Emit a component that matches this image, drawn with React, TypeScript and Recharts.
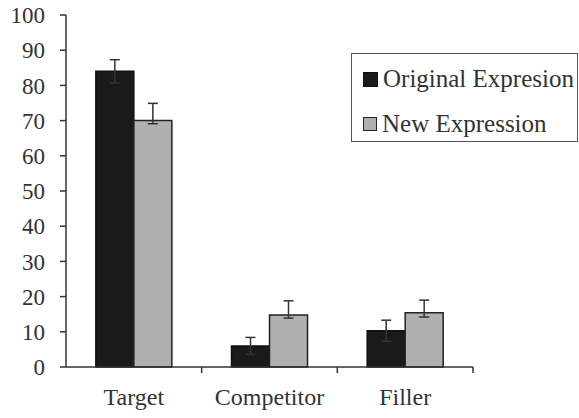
import { Bar, BarChart, ErrorBar, Legend, XAxis, YAxis } from "recharts";

const categories = ["Target", "Competitor", "Filler"];
const originalValues = [84, 6, 10.3];
const originalErrors = [3.3, 2.4, 3.0];
const newValues = [70, 14.8, 15.4];
const newErrorsLow = [0.9, 0.9, 1.2];
const newErrorsHigh = [4.9, 4.0, 3.6];
const yTicks = [0, 10, 20, 30, 40, 50, 60, 70, 80, 90, 100];

const data = categories.map((name, i) => ({
  name,
  original: originalValues[i],
  originalErr: originalErrors[i],
  expr: newValues[i],
  exprErr: [newErrorsLow[i], newErrorsHigh[i]],
}));

const FONT = "Liberation Serif, serif";
const TEXT = "#333";

const CategoryTick = (props: any) => {
  const { x, y, payload } = props;
  const half = payload.offset || 0;
  return (
    <g>
      <line x1={x + half} y1={y - 8} x2={x + half} y2={y - 2} stroke="#333" strokeWidth={1.5} />
      <text x={x} y={y + 30} textAnchor="middle" style={{ fontFamily: FONT }} fontSize={24} fill={TEXT}>
        {payload.value}
      </text>
    </g>
  );
};

const LegendBox = () => (
  <div
    style={{
      width: 227,
      height: 89,
      border: "1.5px solid #555",
      background: "#fff",
      fontFamily: FONT,
      fontSize: 25,
      color: TEXT,
      boxSizing: "border-box",
      position: "relative",
      textAlign: "left",
    }}
  >
    <div style={{ position: "absolute", left: 11, top: 11, display: "flex", alignItems: "center", whiteSpace: "nowrap" }}>
      <span style={{ width: 13, height: 13, background: "#1a1a1a", border: "1px solid #111", marginRight: 5 }} />
      <span>Original Expresion</span>
    </div>
    <div style={{ position: "absolute", left: 11, top: 56, display: "flex", alignItems: "center", whiteSpace: "nowrap" }}>
      <span style={{ width: 12, height: 12, background: "#b0b0b0", border: "1.5px solid #222", marginRight: 5 }} />
      <span>New Expression</span>
    </div>
  </div>
);

export default function App() {
  return (
    <div style={{ position: "absolute", left: 0, top: 0, background: "#fff", fontFamily: FONT }}>
      <BarChart
        width={579}
        height={418}
        data={data}
        margin={{ top: 15, right: 106, left: 0, bottom: 21 }}
        barCategoryGap="22%"
        barGap={0}
        style={{ fontFamily: FONT }}
      >
        <XAxis
          dataKey="name"
          axisLine={{ stroke: "#333", strokeWidth: 1.5 }}
          tickLine={false}
          tick={<CategoryTick />}
          interval={0}
        />
        <YAxis
          width={66}
          domain={[0, 100]}
          ticks={yTicks}
          interval={0}
          axisLine={{ stroke: "#333", strokeWidth: 1.5 }}
          tickLine={{ stroke: "#333", strokeWidth: 1.5 }}
          tickSize={6}
          tickMargin={15}
          tick={{ fontFamily: FONT, fontSize: 23, fill: TEXT }}
        />
        <Legend
          layout="horizontal"
          verticalAlign="middle"
          align="center"
          content={<LegendBox />}
          wrapperStyle={{ left: 351, top: 53, width: 227, height: 89 }}
        />
        <Bar dataKey="original" fill="#1a1a1a" stroke="#111" strokeWidth={1.5} isAnimationActive={false}>
          <ErrorBar dataKey="originalErr" width={5} stroke="#333" strokeWidth={1.5} direction="y" />
        </Bar>
        <Bar dataKey="expr" fill="#b0b0b0" stroke="#222" strokeWidth={1.5} isAnimationActive={false}>
          <ErrorBar dataKey="exprErr" width={5} stroke="#333" strokeWidth={1.5} direction="y" />
        </Bar>
      </BarChart>
    </div>
  );
}
